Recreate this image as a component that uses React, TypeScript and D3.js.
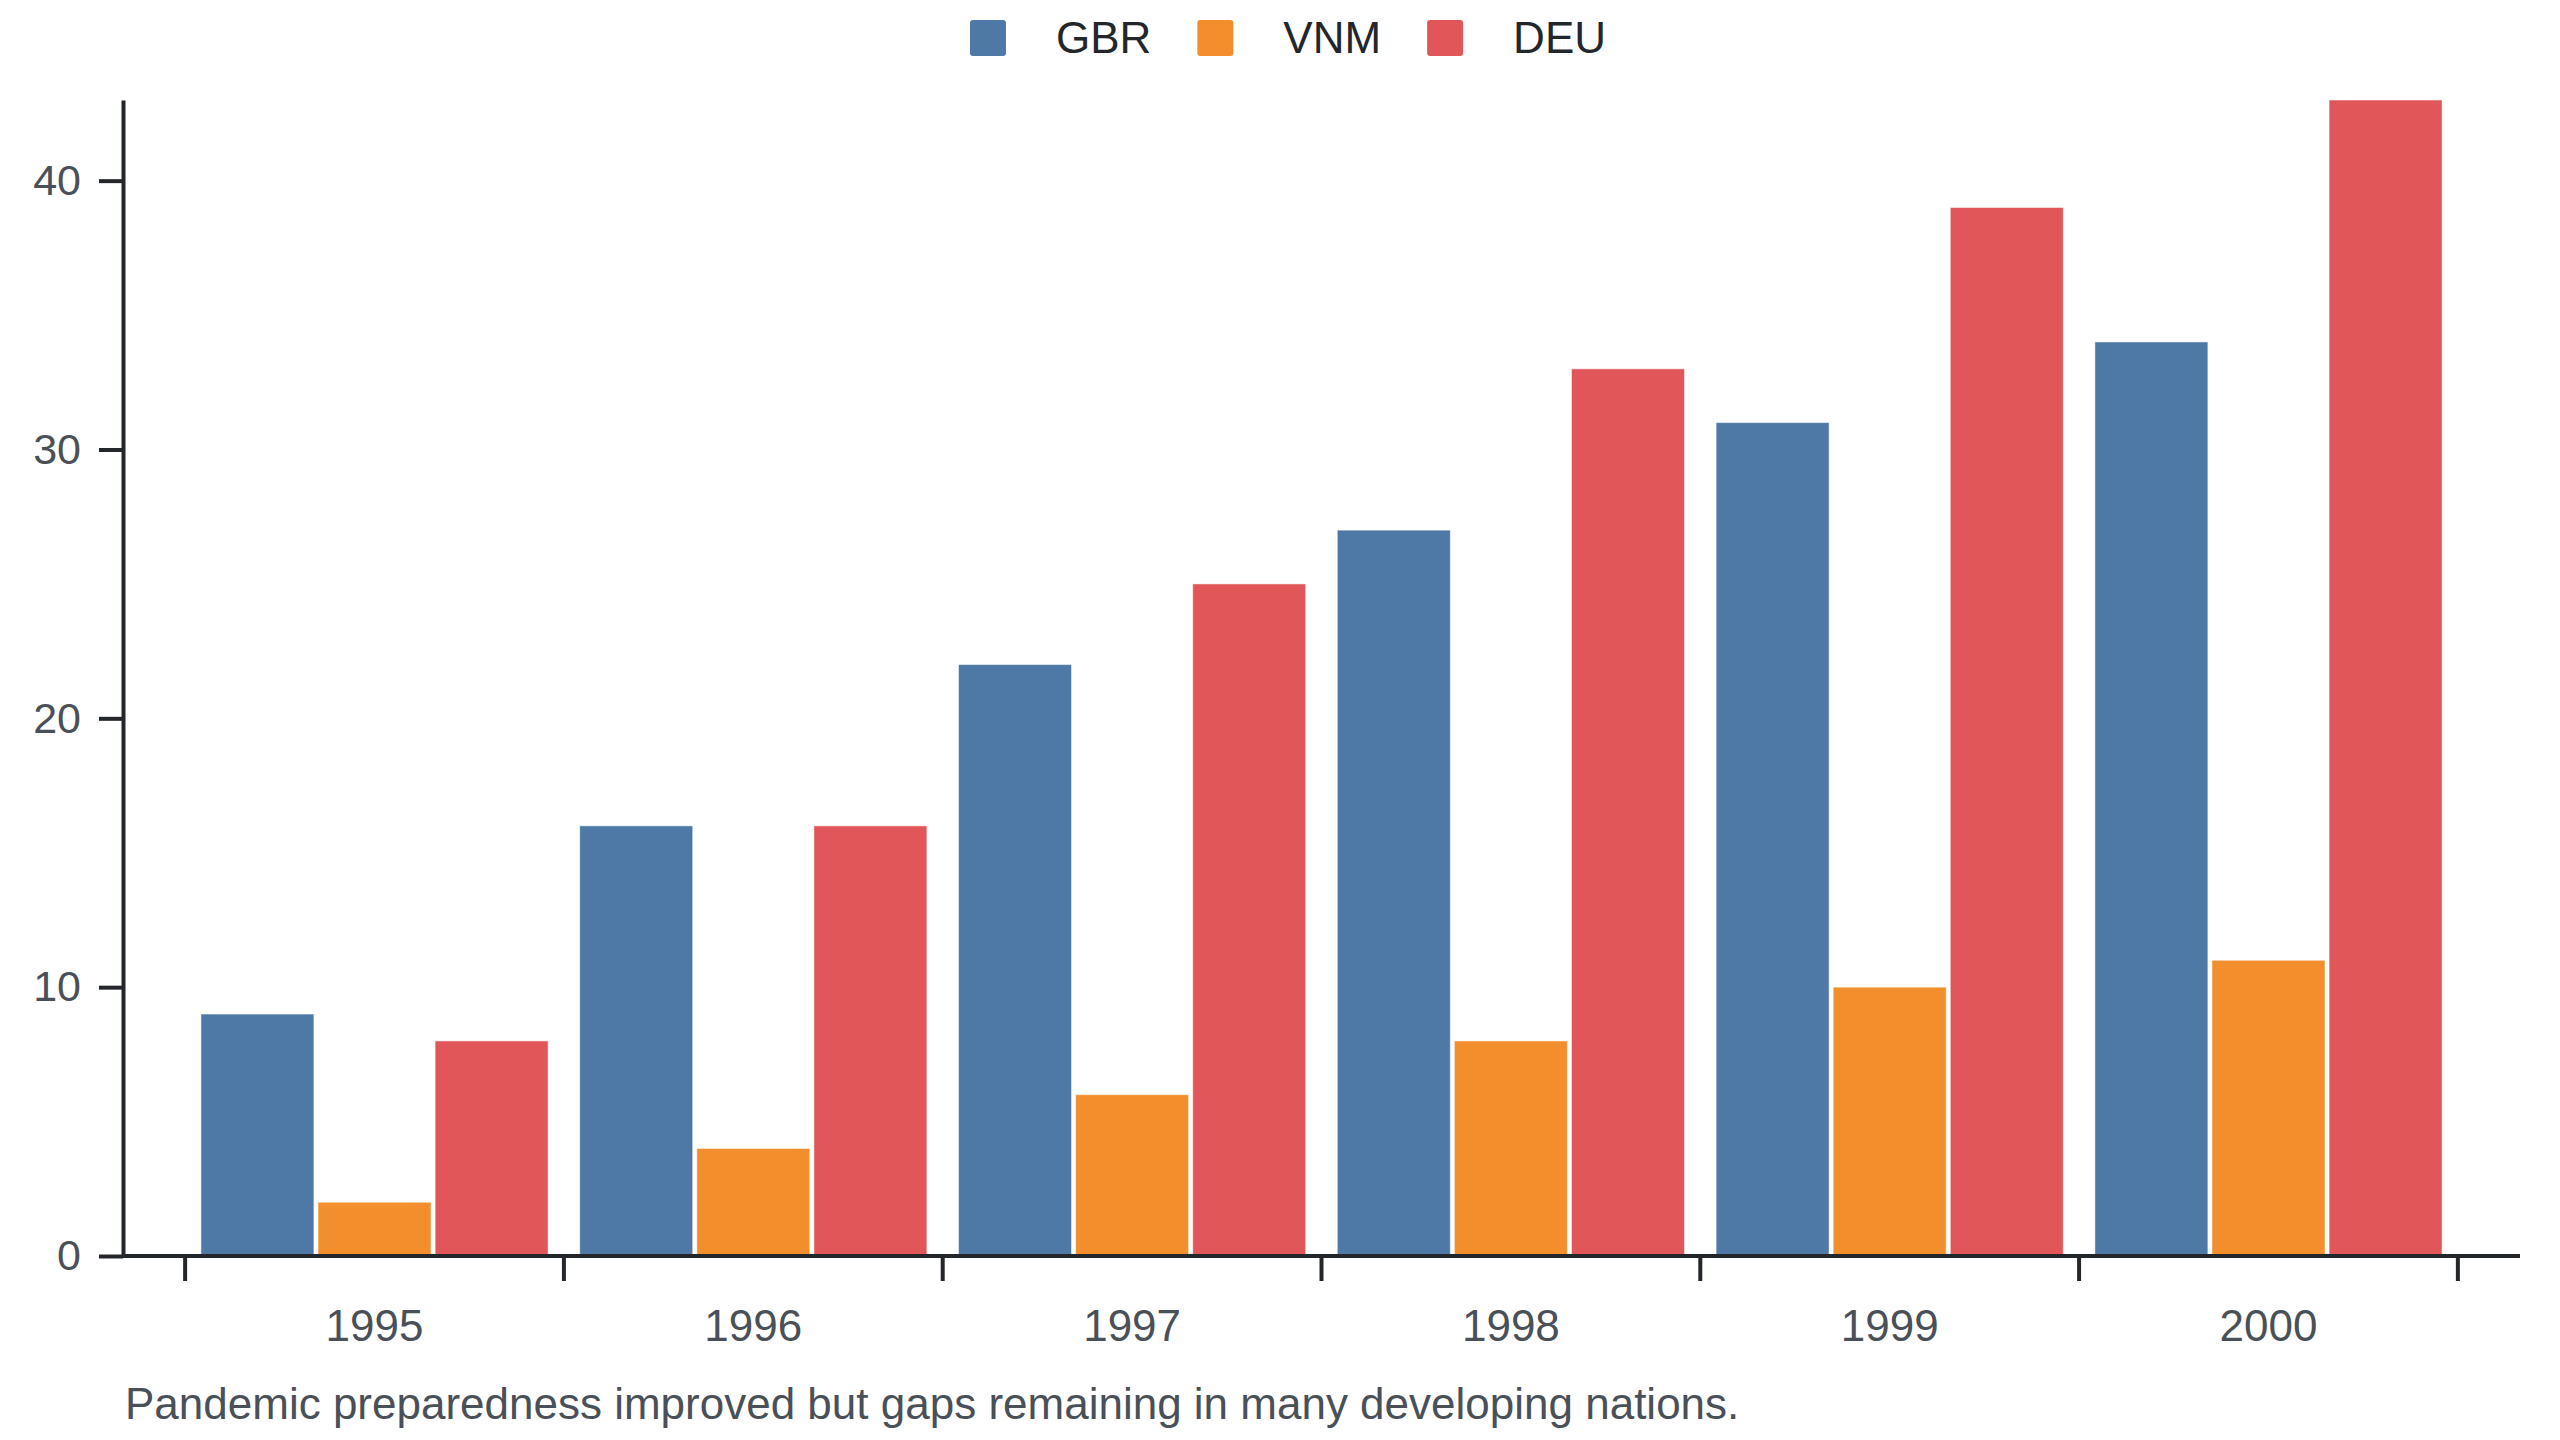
import React, { useRef, useEffect } from 'react';
import * as d3 from 'd3';

const years = ['1995', '1996', '1997', '1998', '1999', '2000'];
const countries = ['GBR', 'VNM', 'DEU'];
const gbr = [9, 16, 22, 27, 31, 34];
const vnm = [2, 4, 6, 8, 10, 11];
const deu = [8, 16, 25, 33, 39, 43];
const colors = ['#4e79a7', '#f28e2b', '#e15759'];
const yTicks = [0, 10, 20, 30, 40];
const caption = 'Pandemic preparedness improved but gaps remaining in many developing nations.';

const W = 2560;
const H = 1440;
const margin = { top: 100, right: 40, bottom: 184, left: 123 };
const ink = '#23272b';
const textColor = '#4a5058';
const font = '"Liberation Sans", Arial, sans-serif';

const App: React.FC = () => {
  const svgRef = useRef<SVGSVGElement>(null);

  useEffect(() => {
    if (!svgRef.current) return;
    const svg = d3.select(svgRef.current);
    svg.selectAll('*').remove();

    const series = [gbr, vnm, deu];
    const rows = years.map((y, i) => ({ year: y, values: series.map(s => s[i]) }));

    const x0 = d3.scaleBand<string>()
      .domain(years)
      .range([margin.left, W - margin.right])
      .paddingInner(0)
      .paddingOuter(0.164);

    const x1 = d3.scaleBand<string>()
      .domain(countries)
      .range([0, x0.bandwidth()])
      .paddingInner(0.035)
      .paddingOuter(0.135);

    const y = d3.scaleLinear()
      .domain([0, d3.max(series.flat())!])
      .range([H - margin.bottom, margin.top]);

    // bars
    const groups = svg.append('g')
      .selectAll('g')
      .data(rows)
      .enter()
      .append('g')
      .attr('transform', d => `translate(${x0(d.year)},0)`);

    groups.selectAll('rect')
      .data(d => d.values.map((v, i) => ({ key: countries[i], value: v, color: colors[i] })))
      .enter()
      .append('rect')
      .attr('x', d => x1(d.key)!)
      .attr('width', x1.bandwidth())
      .attr('y', d => y(d.value))
      .attr('height', d => y(0) - y(d.value))
      .attr('fill', d => d.color)
      .attr('stroke', '#ffffff')
      .attr('stroke-opacity', 0.5)
      .attr('stroke-width', 1);

    // y axis
    const yAxis = svg.append('g')
      .attr('transform', `translate(${margin.left},0)`)
      .call(d3.axisLeft(y).tickValues(yTicks).tickSize(24).tickPadding(18).tickSizeOuter(0));
    yAxis.select('.domain').attr('stroke', ink).attr('stroke-width', 4);
    yAxis.selectAll('.tick line').attr('stroke', ink).attr('stroke-width', 4);
    yAxis.selectAll('.tick text')
      .attr('fill', textColor)
      .style('font-family', font)
      .style('font-size', '43px');

    // x axis: line plus ticks at band edges, labels at band centres
    const xAxis = svg.append('g');
    xAxis.append('line')
      .attr('x1', margin.left)
      .attr('x2', W - margin.right)
      .attr('y1', y(0))
      .attr('y2', y(0))
      .attr('stroke', ink)
      .attr('stroke-width', 4);

    const edges = years.map(d => x0(d)!).concat([x0(years[years.length - 1])! + x0.bandwidth()]);
    xAxis.selectAll('line.tick')
      .data(edges)
      .enter()
      .append('line')
      .attr('class', 'tick')
      .attr('x1', d => d)
      .attr('x2', d => d)
      .attr('y1', y(0))
      .attr('y2', y(0) + 25)
      .attr('stroke', ink)
      .attr('stroke-width', 4);

    xAxis.selectAll('text')
      .data(years)
      .enter()
      .append('text')
      .attr('x', d => x0(d)! + x0.bandwidth() / 2)
      .attr('y', y(0) + 85)
      .attr('text-anchor', 'middle')
      .attr('fill', textColor)
      .style('font-family', font)
      .style('font-size', '44px')
      .text(d => d);

    // legend
    const legend = svg.append('g').attr('transform', 'translate(0,38)');
    const items = legend.selectAll('g')
      .data(countries)
      .enter()
      .append('g');
    items.append('rect')
      .attr('width', 36)
      .attr('height', 36)
      .attr('y', -18)
      .attr('rx', 3)
      .attr('fill', (_, i) => colors[i]);
    items.append('text')
      .attr('x', 86)
      .attr('y', 15)
      .attr('fill', ink)
      .style('font-family', font)
      .style('font-size', '44px')
      .text(d => d);

    let offset = 0;
    const positions: number[] = [];
    items.each(function () {
      const t = (this as SVGGElement).querySelector('text') as SVGTextElement;
      positions.push(offset);
      offset += 86 + t.getComputedTextLength() + 46;
    });
    const total = offset - 46;
    const start = 1288 - total / 2;
    items.attr('transform', (_, i) => `translate(${start + positions[i]},0)`);

    // caption
    svg.append('text')
      .attr('x', 125)
      .attr('y', 1419)
      .attr('fill', textColor)
      .style('font-family', font)
      .style('font-size', '44px')
      .text(caption);
  }, []);

  return (
    <svg
      ref={svgRef}
      width={W}
      height={H}
      style={{ position: 'absolute', left: 0, top: 0, background: '#ffffff' }}
    />
  );
};

export default App;
